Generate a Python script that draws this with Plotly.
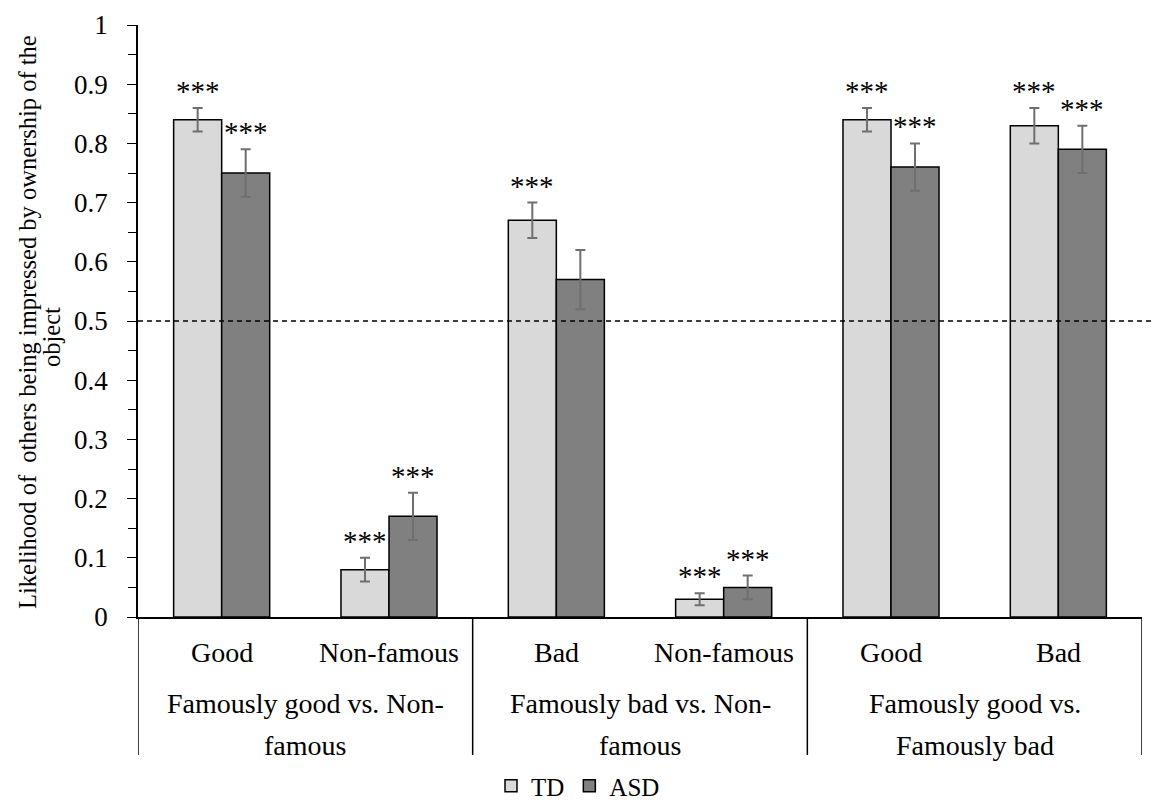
import plotly.graph_objects as go

# Categories (inner labels) and their comparison groups
categories = ["Good", "Non-famous", "Bad", "Non-famous", "Good", "Bad"]
groups = [
    ["Famously good vs. Non-", "famous"],
    ["Famously bad vs. Non-", "famous"],
    ["Famously good vs.", "Famously bad"],
]

# Mean proportions and standard errors
td_values = [0.84, 0.08, 0.67, 0.03, 0.84, 0.83]
td_errors = [0.02, 0.02, 0.03, 0.01, 0.02, 0.03]
asd_values = [0.75, 0.17, 0.57, 0.05, 0.76, 0.79]
asd_errors = [0.04, 0.04, 0.05, 0.02, 0.04, 0.04]

# Significance markers (vs. chance level 0.5)
td_sig = ["***", "***", "***", "***", "***", "***"]
asd_sig = ["***", "***", "", "***", "***", "***"]

y_ticks = [0, 0.1, 0.2, 0.3, 0.4, 0.5, 0.6, 0.7, 0.8, 0.9, 1]
y_tick_text = ["0", "0.1", "0.2", "0.3", "0.4", "0.5", "0.6", "0.7", "0.8", "0.9", "1"]

y_title_lines = ["Likelihood of  others being impressed by ownership of the", "object"]

FONT = "'Liberation Serif', 'Times New Roman', Times, serif"
x_pos = list(range(len(categories)))

fig = go.Figure()
fig.add_trace(go.Bar(
    name="TD", x=x_pos, y=td_values,
    marker=dict(color="#d9d9d9", line=dict(color="black", width=1.5)),
    error_y=dict(type="data", array=td_errors, color="#6f6f6f", thickness=2, width=5),
))
fig.add_trace(go.Bar(
    name="ASD", x=x_pos, y=asd_values,
    marker=dict(color="#808080", line=dict(color="black", width=1.5)),
    error_y=dict(type="data", array=asd_errors, color="#6f6f6f", thickness=2, width=5),
))

bargap = 0.426
half = (1 - bargap) / 4  # offset of each bar centre from category centre

annotations = []
for i in range(len(categories)):
    for sig, vals, errs, off in ((td_sig, td_values, td_errors, -half),
                                 (asd_sig, asd_values, asd_errors, half)):
        if sig[i]:
            annotations.append(dict(
                x=i + off, y=vals[i] + errs[i], xref="x", yref="y",
                text=sig[i], showarrow=False, yanchor="bottom", yshift=-1,
                font=dict(family=FONT, size=29, color="black"),
            ))

plot_w = 1142 - 138
plot_h = 617 - 25
def py(pix):
    return -(pix - 617) / plot_h
def px(pix):
    return (pix - 138) / plot_w

# Inner category labels
for i, c in enumerate(categories):
    annotations.append(dict(
        x=i, y=py(652), xref="x", yref="paper", text=c, showarrow=False,
        yanchor="middle", font=dict(family=FONT, size=28, color="black"),
    ))
# Group labels (two lines each)
for g, lines in enumerate(groups):
    for line, ypix in zip(lines, (703, 745)):
        annotations.append(dict(
            x=2 * g + 0.5, y=py(ypix), xref="x", yref="paper", text=line,
            showarrow=False, yanchor="middle",
            font=dict(family=FONT, size=28, color="black"),
        ))

# Y-axis title, one annotation per line
for line, xpix, ypix in zip(y_title_lines, (27, 52), (322, 337)):
    annotations.append(dict(
        x=px(xpix), y=py(ypix), xref="paper", yref="paper", text=line,
        textangle=-90, showarrow=False, xanchor="center", yanchor="middle",
        font=dict(family=FONT, size=24.5, color="black"),
    ))

shapes = []
# Group separators below the axis
for xb in (-0.5, 1.5, 3.5, 5.5):
    shapes.append(dict(type="line", xref="x", yref="paper", x0=xb, x1=xb,
                       y0=0, y1=py(755), line=dict(color="black", width=1.5)))
# Chance level reference line
shapes.append(dict(type="line", xref="paper", yref="y", x0=0, x1=px(1155),
                   y0=0.5, y1=0.5, line=dict(color="black", width=1.3, dash="5px,4px")))

fig.update_layout(
    width=1155, height=802,
    margin=dict(l=138, r=13, t=25, b=185, autoexpand=False),
    paper_bgcolor="white", plot_bgcolor="white",
    barmode="group", bargap=bargap, bargroupgap=0,
    font=dict(family=FONT, size=24, color="black"),
    xaxis=dict(range=[-0.5, 5.5], showticklabels=False, showgrid=False,
               zeroline=False, showline=True, linecolor="black", linewidth=1.5,
               ticks=""),
    yaxis=dict(range=[0, 1], tickvals=y_ticks, ticktext=y_tick_text,
               showgrid=False, zeroline=False, showline=True, linecolor="black",
               linewidth=1.5, ticks="outside", ticklen=9, tickcolor="black",
               ticklabelstandoff=14, tickfont=dict(family=FONT, size=27),
               minor=dict(dtick=0.05, ticks="outside", ticklen=8, tickcolor="black")),
    showlegend=True,
    legend=dict(orientation="h", x=px(578), xanchor="center", y=py(786), yanchor="middle",
                font=dict(family=FONT, size=25), traceorder="normal",
                tracegroupgap=0, itemwidth=30),
    annotations=annotations, shapes=shapes,
)

fig.write_html("out.html")
